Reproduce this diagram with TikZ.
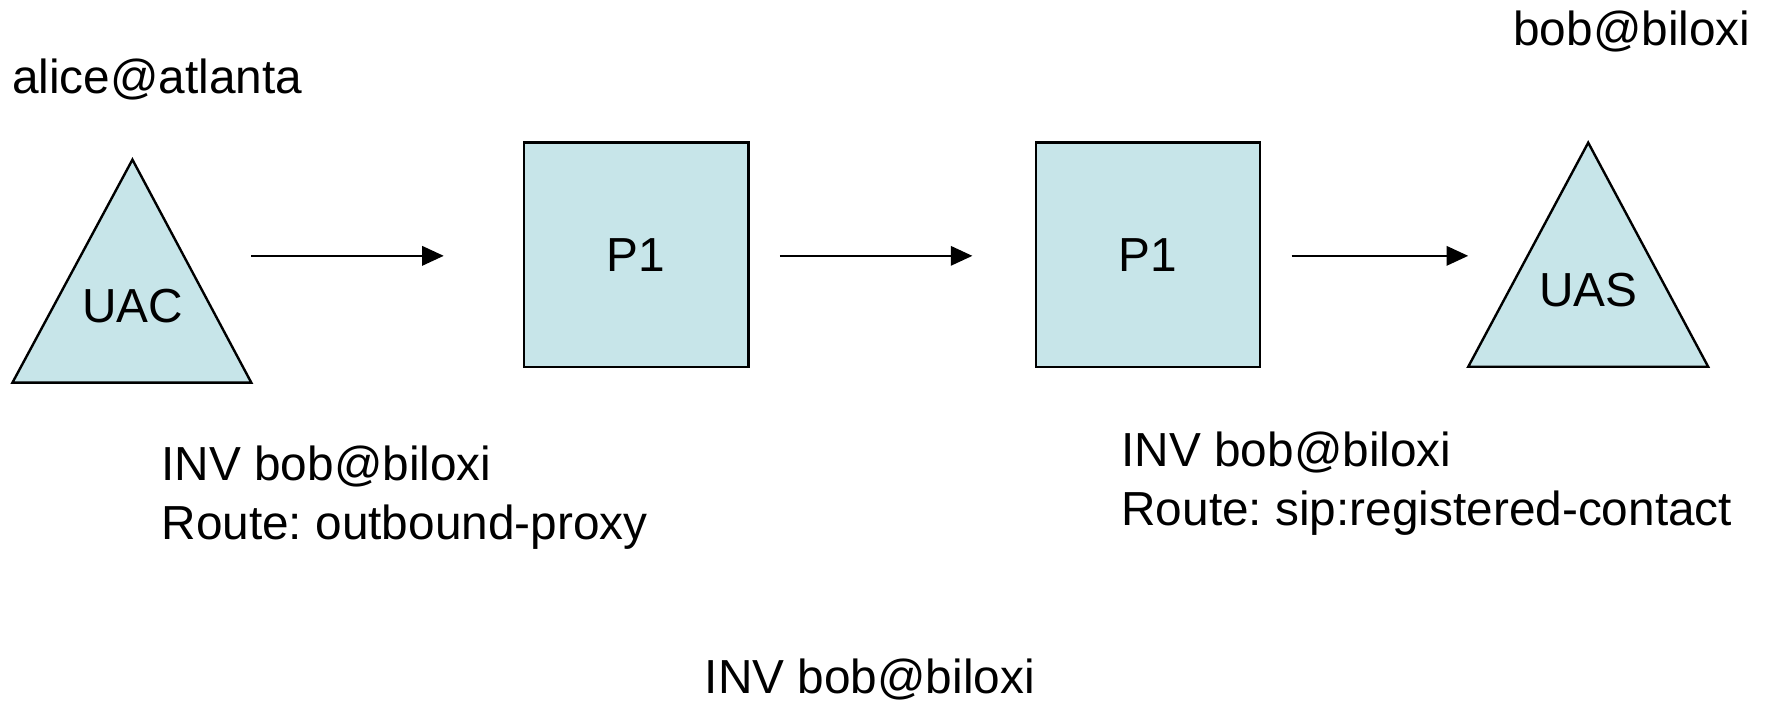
\documentclass[tikz,border=0pt]{standalone}
\usepackage{fontspec}
\setmainfont{Liberation Sans}
\usetikzlibrary{arrows.meta}
\definecolor{proxyfill}{RGB}{199,229,233}
\frenchspacing
\begin{document}
\begin{tikzpicture}[x=0.01cm,y=-0.01cm,
  font=\fontsize{12}{14.8}\selectfont,
  proxy/.style={draw,fill=proxyfill,line width=0.6pt,minimum size=1.98cm,inner sep=0pt},
  agent/.style={draw,fill=proxyfill,line width=0.6pt},
  msg/.style={-{Triangle[length=0.19cm,width=0.17cm]},line width=0.6pt},
  note/.style={align=left,anchor=west,inner sep=0pt}]
\useasboundingbox (0,0) rectangle (1568,620);
\draw[agent] (11,338) -- (222,338) -- (117,141) -- cycle;
\draw[agent] (1297,324) -- (1509,324) -- (1403,126) -- cycle;
\node[proxy] (p1a) at (562,225) {P1};
\node[proxy] (p1b) at (1014,225) {P1};
\node (uac) at (117,270) {UAC};
\node (uas) at (1403,256) {UAS};
\coordinate (m1s) at (222,226);
\coordinate (m1e) at (392,226);
\coordinate (m2s) at (689,226);
\coordinate (m2e) at (859,226);
\coordinate (m3s) at (1141,226);
\coordinate (m3e) at (1297,226);
\draw[msg] (m1s) -- (m1e);
\draw[msg] (m2s) -- (m2e);
\draw[msg] (m3s) -- (m3e);
\node[note] (alice) at (10,70) {alice@atlanta};
\node[note,anchor=east] (bob) at (1547,28) {bob@biloxi};
\node[note] (inv1) at (142,440) {INV bob@biloxi\\Route: outbound-proxy};
\node[note] (inv2) at (990,427) {INV bob@biloxi\\Route: sip:registered-contact};
\node[note] (inv3) at (622,600) {INV bob@biloxi};
\end{tikzpicture}
\end{document}
